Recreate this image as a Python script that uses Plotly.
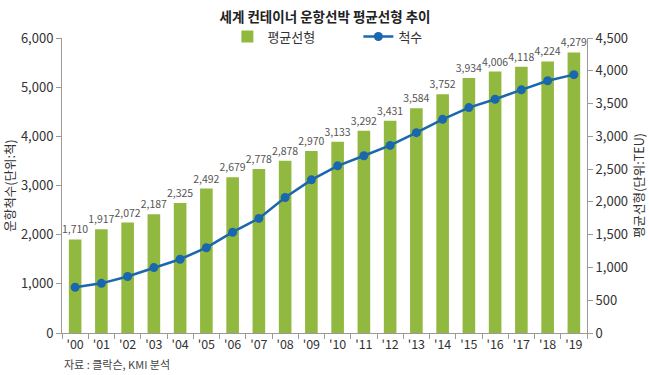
import plotly.graph_objects as go

# Data
years = ["'00", "'01", "'02", "'03", "'04", "'05", "'06", "'07", "'08", "'09",
         "'10", "'11", "'12", "'13", "'14", "'15", "'16", "'17", "'18", "'19"]
# Average ship size bars (TEU) - bar heights as drawn on the right axis
avg_size_bar = [1428, 1581, 1684, 1811, 1984, 2204, 2377, 2500, 2627, 2775,
                2918, 3086, 3239, 3429, 3643, 3888, 3989, 4061, 4142, 4280]
# Printed labels over bars (TEU)
avg_size_labels = [1710, 1917, 2072, 2187, 2325, 2492, 2679, 2778, 2878, 2970,
                   3133, 3292, 3431, 3584, 3752, 3934, 4006, 4118, 4224, 4279]
# Number of ships (line) - left axis
ship_count = [930, 1010, 1150, 1330, 1500, 1735, 2050, 2330, 2755, 3115,
              3400, 3605, 3815, 4075, 4345, 4585, 4755, 4945, 5130, 5255]

FONT = "Noto Sans CJK KR"
GREEN = "#92B93F"
BLUE = "#1A67AD"
AXIS = "#9a9a9a"
TXT = "#333333"

fig = go.Figure()
fig.add_trace(go.Bar(
    x=years, y=avg_size_bar, name="평균선형", yaxis="y",
    marker=dict(color=GREEN, line=dict(width=0)), width=0.48,
    text=[f"{v:,}" for v in avg_size_labels], textposition="outside",
    textangle=0, constraintext="none",
    textfont=dict(family=FONT, size=10.5, color="#555555"),
    cliponaxis=False,
))
fig.add_trace(go.Scatter(
    x=years, y=ship_count, name="척수", yaxis="y2", mode="lines+markers",
    line=dict(color=BLUE, width=2.5), marker=dict(color=BLUE, size=9),
))

fig.update_layout(
    width=650, height=375,
    margin=dict(l=62, r=63, t=38, b=42, autoexpand=False),
    paper_bgcolor="white", plot_bgcolor="white",
    font=dict(family=FONT, size=13, color=TXT),
    title=dict(text="<b>세계 컨테이너 운항선박 평균선형 추이</b>", x=0.5, xanchor="center",
               y=0.955, yanchor="middle", font=dict(size=13.5, color="#222222")),
    bargap=0.5,
    showlegend=True,
    legend=dict(orientation="h", x=0.315, xanchor="left", y=1.005, yanchor="middle",
                font=dict(size=13, color=TXT), entrywidth=86, bgcolor="rgba(0,0,0,0)"),
    xaxis=dict(type="category", range=[-0.5, 19.5], showline=True, linecolor=AXIS,
               linewidth=1, ticks="outside", ticklen=5, tickcolor=AXIS, automargin=False,
               tickangle=0, tickson="boundaries", showgrid=False,
               tickfont=dict(size=12.5, color=TXT)),
    yaxis=dict(side="right", range=[0, 4500], dtick=500, tickformat=",", automargin=False,
               showline=True, linecolor=AXIS, ticks="outside", ticklen=5, tickcolor=AXIS,
               showgrid=False, zeroline=False, tickfont=dict(size=13, color=TXT),
               title=dict(text="평균선형(단위:TEU)", font=dict(size=12.5, color=TXT), standoff=8)),
    yaxis2=dict(side="left", overlaying="y", range=[0, 6000], dtick=1000, tickformat=",",
                automargin=False,
                showline=True, linecolor=AXIS, ticks="outside", ticklen=5, tickcolor=AXIS,
                showgrid=False, zeroline=False, tickfont=dict(size=13, color=TXT),
                title=dict(text="운항척수(단위:척)", font=dict(size=12.5, color=TXT), standoff=4)),
    annotations=[dict(text="자료 : 클락슨, KMI 분석", xref="paper", yref="paper",
                      x=0.0, y=-0.105, xanchor="left", yanchor="middle", showarrow=False,
                      font=dict(size=11, color="#444444"))],
)

fig.write_html("out.html", config={"displayModeBar": False},
               post_script="document.body.style.margin='0';")
